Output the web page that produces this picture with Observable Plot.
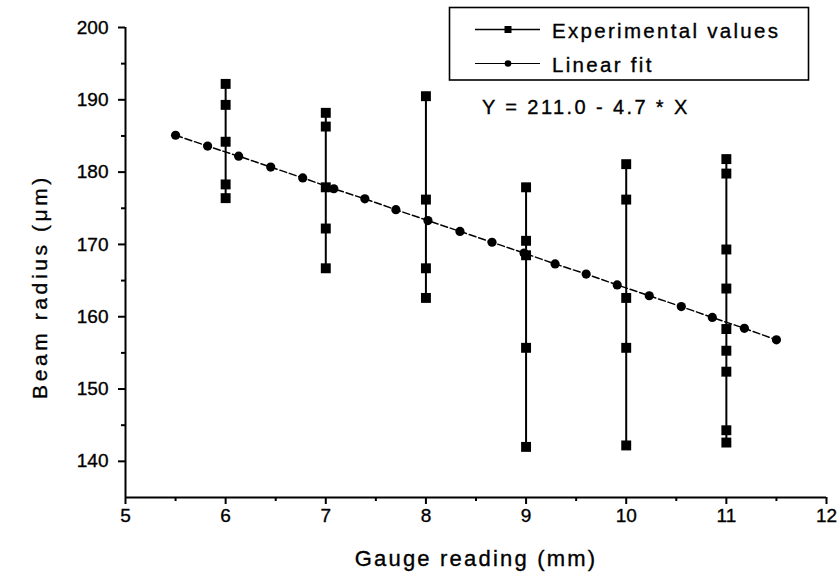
<!DOCTYPE html>
<html><head><meta charset="utf-8">
<script src="https://cdn.jsdelivr.net/npm/d3@7"></script>
<script src="https://cdn.jsdelivr.net/npm/@observablehq/plot@0.6"></script>
<style>
body{margin:0;background:#fff;}
#chart{width:840px;height:578px;}
#chart svg text{stroke:#000;stroke-width:0.35px;}
</style></head><body><div id="chart"></div>
<script>
// Experimental values (beam radius, µm) per gauge reading (mm)
const gauge = [6, 7, 8, 9, 10, 11];
const exp6 = [192.2, 189.3, 184.2, 178.3, 176.4];
const exp7 = [188.2, 186.3, 177.9, 172.2, 166.7];
const exp8 = [190.5, 176.2, 166.7, 162.6];
const exp9 = [177.9, 170.5, 168.5, 155.7, 142.0];
const exp10 = [181.1, 176.2, 162.6, 155.7, 142.2];
const exp11 = [181.8, 179.8, 169.3, 163.9, 158.3, 155.3, 152.4, 144.3, 142.6];
// Linear fit points
const fitX = [5.5, 5.82, 6.13, 6.45, 6.77, 7.08, 7.39, 7.7, 8.02, 8.34, 8.66, 8.98, 9.29, 9.6, 9.91, 10.23, 10.55, 10.86, 11.18, 11.5];
const fitY = [185.1, 183.6, 182.2, 180.7, 179.2, 177.7, 176.3, 174.8, 173.3, 171.8, 170.3, 168.8, 167.3, 165.9, 164.4, 162.9, 161.4, 159.9, 158.4, 156.8];
// Axes
const xDomain = [5, 12];
const yDomain = [135, 200];
const xTicks = [5, 6, 7, 8, 9, 10, 11, 12];
const xMinor = [5.5, 6.5, 7.5, 8.5, 9.5, 10.5, 11.5];
const yTicks = [140, 150, 160, 170, 180, 190, 200];
const yMinor = [145, 155, 165, 175, 185, 195];
const xLabel = "Gauge reading (mm)";
const yLabel = "Beam radius (\u03bcm)";
const legendLabels = ["Experimental values", "Linear fit"];
const equation = "Y = 211.0 - 4.7 * X";

const groups = [exp6, exp7, exp8, exp9, exp10, exp11];
const expData = groups.flatMap((vals, i) => vals.map(v => ({g: gauge[i], v})));
const fitData = fitX.map((x, i) => ({x, y: fitY[i]}));

const FONT = "'Liberation Sans', Arial, Helvetica, sans-serif";

const plot = Plot.plot({
  width: 840, height: 578,
  marginLeft: 125, marginRight: 14, marginTop: 27, marginBottom: 81,
  style: {fontFamily: FONT, fontSize: "19px", background: "#fff", color: "#000"},
  x: {domain: xDomain},
  y: {domain: yDomain},
  marks: [
    Plot.axisY(yTicks, {tickSize: 7, tickPadding: 10, strokeWidth: 2, fontSize: 19, label: null}),
    Plot.axisY(yMinor, {tickSize: 4, strokeWidth: 2, tickFormat: () => "", label: null}),
    Plot.axisX(xTicks, {tickSize: 7, tickPadding: 4, strokeWidth: 2, fontSize: 19, label: null}),
    Plot.axisX(xMinor, {tickSize: 4, strokeWidth: 2, tickFormat: () => "", label: null}),
    Plot.ruleX([xDomain[0]], {stroke: "#000", strokeWidth: 2}),
    Plot.ruleY([yDomain[0]], {stroke: "#000", strokeWidth: 2}),
    Plot.line(fitData, {x: "x", y: "y", stroke: "#000", strokeWidth: 1.5, strokeDasharray: "7,3"}),
    Plot.dot(fitData, {x: "x", y: "y", r: 4.6, fill: "#000"}),
    Plot.line(expData, {x: "g", y: "v", z: "g", stroke: "#000", strokeWidth: 2}),
    Plot.dot(expData, {x: "g", y: "v", symbol: "square", r: 5.6, fill: "#000"})
  ]
});
document.getElementById("chart").append(plot);

const svg = d3.select(plot);
// Axis titles
svg.append("text").text(xLabel)
  .attr("x", 476).attr("y", 566).attr("text-anchor", "middle")
  .attr("font-family", FONT).attr("font-size", 22).attr("letter-spacing", 2.2).attr("fill", "#000");
svg.append("text").text(yLabel)
  .attr("transform", "translate(46.5,286.5) rotate(-90)").attr("text-anchor", "middle")
  .attr("font-family", FONT).attr("font-size", 21).attr("letter-spacing", 3.6).attr("fill", "#000");

// Legend
const lg = svg.append("g").attr("font-family", FONT).attr("fill", "#000").attr("text-anchor", "start");
lg.append("rect").attr("x", 449.5).attr("y", 7.5).attr("width", 359).attr("height", 72.5)
  .attr("fill", "#fff").attr("stroke", "#000").attr("stroke-width", 1.6);
lg.append("line").attr("x1", 475).attr("x2", 540).attr("y1", 29.5).attr("y2", 29.5).attr("stroke", "#000").attr("stroke-width", 1.5);
lg.append("rect").attr("x", 504.5).attr("y", 26).attr("width", 7).attr("height", 7).attr("fill", "#000");
lg.append("line").attr("x1", 475).attr("x2", 540).attr("y1", 63.5).attr("y2", 63.5).attr("stroke", "#000").attr("stroke-width", 1.2);
lg.append("circle").attr("cx", 508).attr("cy", 63.5).attr("r", 3.3).attr("fill", "#000");
lg.append("text").text(legendLabels[0]).attr("x", 552).attr("y", 37.5).attr("font-size", 20.5).attr("letter-spacing", 2.3).attr("text-anchor", "start");
lg.append("text").text(legendLabels[1]).attr("x", 552).attr("y", 71.5).attr("font-size", 20.5).attr("letter-spacing", 2.3).attr("text-anchor", "start");
// Equation
svg.append("text").text(equation).attr("x", 482).attr("y", 113.5).attr("text-anchor", "start")
  .attr("font-family", FONT).attr("font-size", 20).attr("letter-spacing", 2.4).attr("fill", "#000");
</script></body></html>
